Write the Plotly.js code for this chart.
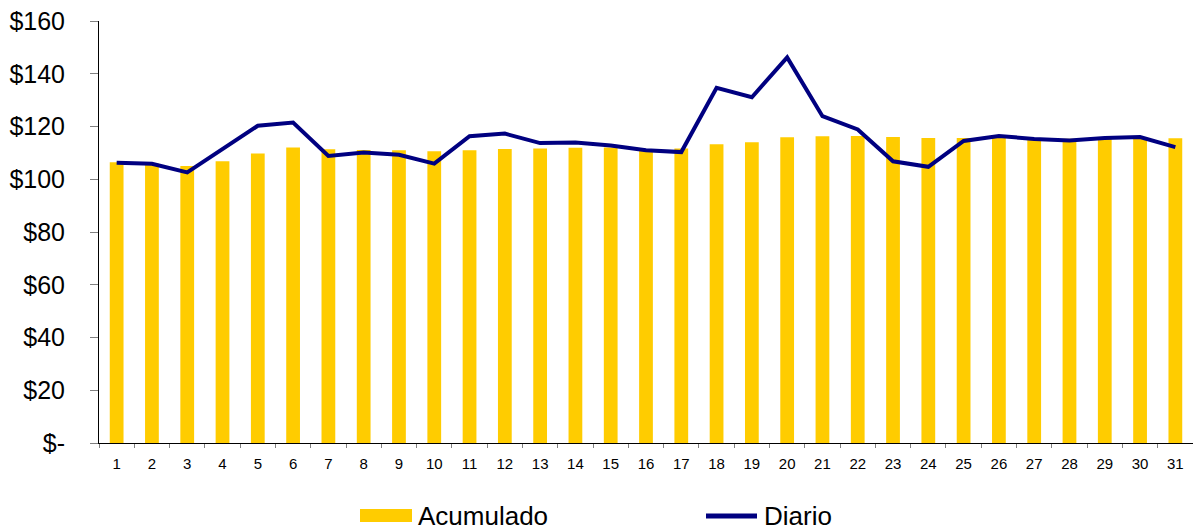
<!DOCTYPE html>
<html>
<head>
<meta charset="utf-8">
<script src="https://cdn.plot.ly/plotly-3.0.1.min.js"></script>
<style>
html,body{margin:0;padding:0;background:#fff;}
#chart{width:1193px;height:527px;}
</style>
</head>
<body>
<div id="chart"></div>
<script>
var days = ['1','2','3','4','5','6','7','8','9','10','11','12','13','14','15','16','17','18','19','20','21','22','23','24','25','26','27','28','29','30','31'];
var acumulado = [106.4,106.0,105.0,106.8,109.8,112.0,111.4,111.1,111.0,110.6,111.0,111.5,111.7,111.9,112.0,111.3,111.7,113.3,114.0,115.9,116.3,116.4,116.0,115.6,115.6,115.7,115.5,115.4,115.4,115.5,115.5];
var diario = [106.3,105.9,102.6,111.5,120.3,121.5,108.8,110.1,109.3,105.9,116.3,117.3,113.7,113.9,112.8,111.0,110.3,134.7,131.1,146.2,123.9,118.9,106.8,104.7,114.5,116.4,115.3,114.7,115.6,116.0,112.2];
var yTickVals = [0,20,40,60,80,100,120,140,160];
var yTickText = ['$-','$20','$40','$60','$80','$100','$120','$140','$160'];
var seriesNames = ['Acumulado','Diario'];
var barColor = '#FFCC00';
var lineColor = '#000080';

var W = 1193, H = 527;
var M = {l:99, r:0, t:21, b:84};
var pw = W - M.l - M.r, ph = H - M.t - M.b;
function px(x){ return (x - M.l)/pw; }
function py(y){ return (H - M.b - y)/ph; }

var traces = [
  {type:'bar', x:days, y:acumulado, name:seriesNames[0], marker:{color:barColor}, hoverinfo:'x+y'},
  {type:'scatter', mode:'lines', x:days, y:diario, name:seriesNames[1], line:{color:lineColor, width:4}}
];

var layout = {
  width:W, height:H,
  margin:M,
  paper_bgcolor:'#fff', plot_bgcolor:'#fff',
  showlegend:false,
  bargap:0.61,
  font:{family:'"Liberation Sans", Arial, sans-serif', color:'#000'},
  xaxis:{type:'category', showline:true, linecolor:'#000', linewidth:1,
         ticks:'outside', tickson:'boundaries', ticklen:4, tickcolor:'#808080', tickwidth:1,
         showgrid:false, zeroline:false, tickfont:{size:15, color:'#000'}, ticklabelstandoff:7, fixedrange:true},
  yaxis:{range:[0,160], tickvals:yTickVals, ticktext:yTickText, showline:true, linecolor:'#000', linewidth:1,
         ticks:'outside', ticklen:8, tickcolor:'#808080', showgrid:false, zeroline:false,
         tickfont:{size:25, color:'#000'}, ticklabelstandoff:20, fixedrange:true},
  shapes:[
    {type:'rect', xref:'paper', yref:'paper', x0:px(360), x1:px(412), y0:py(522), y1:py(509), fillcolor:barColor, line:{width:0}},
    {type:'line', xref:'paper', yref:'paper', x0:px(706), x1:px(757), y0:py(516), y1:py(516), line:{color:lineColor, width:5}}
  ],
  annotations:[
    {xref:'paper', yref:'paper', x:px(416), y:py(516), xanchor:'left', yanchor:'middle', text:seriesNames[0], showarrow:false, font:{size:26, color:'#000'}},
    {xref:'paper', yref:'paper', x:px(762), y:py(516), xanchor:'left', yanchor:'middle', text:seriesNames[1], showarrow:false, font:{size:26, color:'#000'}}
  ]
};
Plotly.newPlot('chart', traces, layout, {displayModeBar:false, staticPlot:true});
</script>
</body>
</html>
